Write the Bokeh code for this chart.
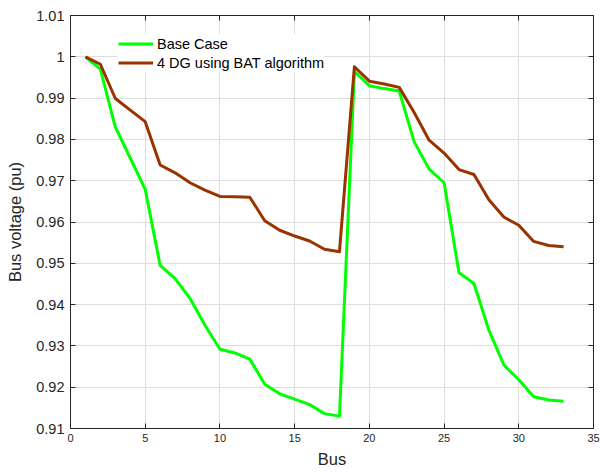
from bokeh.plotting import figure
from bokeh.models import Range1d, LinearAxis, FixedTicker, CustomJSTickFormatter, Legend, LegendItem
from bokeh.embed import file_html
from bokeh.resources import INLINE

# Bus voltage profile of the 33-bus feeder
buses = list(range(1, 34))
base_case = [1.0000, 0.9970, 0.9830, 0.9755, 0.9679, 0.9495, 0.9463, 0.9415, 0.9350, 0.9292,
             0.9283, 0.9268, 0.9207, 0.9184, 0.9171, 0.9158, 0.9136, 0.9130, 0.9964, 0.9930,
             0.9923, 0.9917, 0.9794, 0.9728, 0.9695, 0.9477, 0.9451, 0.9338, 0.9254, 0.9218,
             0.9177, 0.9169, 0.9166]
dg_bat = [1.0000, 0.9982, 0.9899, 0.9871, 0.9843, 0.9738, 0.9719, 0.9695, 0.9677, 0.9662,
          0.9661, 0.9660, 0.9603, 0.9580, 0.9566, 0.9554, 0.9534, 0.9528, 0.9976, 0.9941,
          0.9934, 0.9926, 0.9865, 0.9798, 0.9767, 0.9727, 0.9715, 0.9654, 0.9612, 0.9592,
          0.9553, 0.9543, 0.9540]
series_names = ["Base Case", "4 DG using BAT algorithm"]
x_ticks = [0, 5, 10, 15, 20, 25, 30, 35]
y_ticks = [0.91, 0.92, 0.93, 0.94, 0.95, 0.96, 0.97, 0.98, 0.99, 1.0, 1.01]

FONT = "Liberation Sans"
AXIS_COLOR = "#262626"

p = figure(width=602, height=474, output_backend="svg", toolbar_location=None,
           x_range=Range1d(0, 35), y_range=Range1d(0.91, 1.01),
           min_border_left=70, min_border_right=9, min_border_top=15, min_border_bottom=46,
           x_axis_label="Bus", y_axis_label="Bus voltage (pu)")
p.outline_line_color = AXIS_COLOR
p.background_fill_color = "white"
p.border_fill_color = "white"

fmt = CustomJSTickFormatter(code="""
    let s = tick.toFixed(2);
    s = s.replace(/0+$/, '').replace(/\\.$/, '');
    return s;
""")
blank = CustomJSTickFormatter(code="return '';")

for ax in p.xaxis:
    ax.ticker = FixedTicker(ticks=x_ticks)
for ax in p.yaxis:
    ax.ticker = FixedTicker(ticks=y_ticks)
    ax.formatter = fmt

# boxed frame: mirrored axes on top and right without labels
top_ax = LinearAxis(ticker=FixedTicker(ticks=x_ticks), formatter=blank, major_label_standoff=0)
right_ax = LinearAxis(ticker=FixedTicker(ticks=y_ticks), formatter=blank, major_label_standoff=0)
p.add_layout(top_ax, "above")
p.add_layout(right_ax, "right")

for ax in p.axis:
    ax.axis_line_color = AXIS_COLOR
    ax.axis_line_width = 1
    ax.major_tick_line_color = AXIS_COLOR
    ax.major_tick_in = 5
    ax.major_tick_out = 0
    ax.minor_tick_line_color = None
    ax.major_label_text_font = FONT
    ax.major_label_text_color = AXIS_COLOR
    ax.axis_label_text_font = FONT
    ax.axis_label_text_color = AXIS_COLOR
    ax.axis_label_text_font_style = "normal"
    ax.axis_label_text_font_size = "16.5px"

p.xaxis[0].major_label_text_font_size = "14.5px"
p.xaxis[0].major_label_standoff = 9
p.xaxis[0].axis_label_standoff = 4
p.yaxis[0].major_label_text_font_size = "14.5px"
p.yaxis[0].major_label_standoff = 6
p.yaxis[0].axis_label_standoff = 9

p.xgrid.ticker = FixedTicker(ticks=x_ticks)
p.ygrid.ticker = FixedTicker(ticks=y_ticks)
for g in (p.xgrid, p.ygrid):
    g.grid_line_color = "#dedede"
    g.grid_line_width = 1

r1 = p.line(buses, base_case, line_color="#00ff00", line_width=3, line_join="round")
r2 = p.line(buses, dg_bat, line_color="#993300", line_width=3, line_join="round")

legend = Legend(items=[LegendItem(label=series_names[0], renderers=[r1]),
                       LegendItem(label=series_names[1], renderers=[r2])],
                location=(48, 356))
legend.border_line_color = None
legend.background_fill_color = "white"
legend.background_fill_alpha = 1.0
legend.padding = 5
legend.margin = 0
legend.spacing = 0
legend.glyph_width = 35
legend.glyph_height = 19
legend.label_height = 19
legend.label_standoff = 4
legend.label_text_font = FONT
legend.label_text_font_size = "14.5px"
legend.label_text_color = "#000000"
p.add_layout(legend, "center")

open("out.html", "w").write(file_html(p, INLINE))
